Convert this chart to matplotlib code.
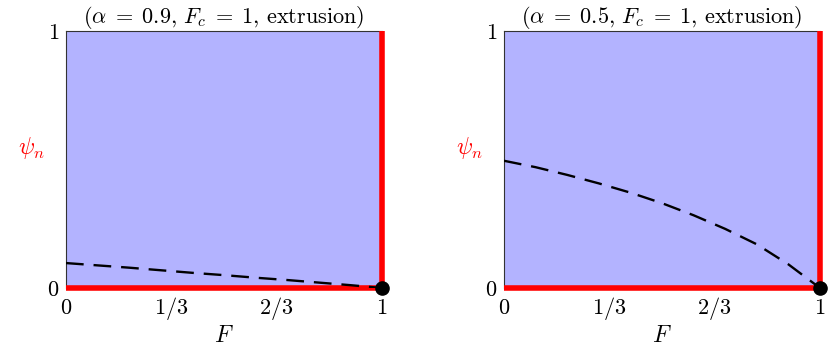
import numpy as np
import matplotlib
matplotlib.use("Agg")
import matplotlib.pyplot as plt

plt.rcParams['mathtext.fontset'] = 'cm'
plt.rcParams['font.family'] = 'serif'
plt.rcParams['font.serif'] = ['DejaVu Serif']

# values
F = [0, 0.1, 0.2, 0.3, 0.4, 0.5, 0.6, 0.7, 0.8, 0.9, 1.0]
psi_a09 = [0.097, 0.088, 0.079, 0.069, 0.059, 0.050, 0.040, 0.031, 0.021, 0.011, 0.0]
psi_a05 = [0.495, 0.470, 0.440, 0.407, 0.371, 0.330, 0.283, 0.230, 0.170, 0.092, 0.0]
titles = [r'$(\alpha \;=\; 0.9,\, F_c \;=\; 1,\, \mathrm{extrusion})$',
          r'$(\alpha \;=\; 0.5,\, F_c \;=\; 1,\, \mathrm{extrusion})$']
xticks = [0, 1/3, 2/3, 1]
xticklabels = [r'$0$', r'$1/3$', r'$2/3$', r'$1$']
yticks = [0, 1]
yticklabels = [r'$0$', r'$1$']

fig = plt.figure(figsize=(8.3, 3.57), dpi=100)
axes = [fig.add_axes([0.0795, 0.1933, 0.3807, 0.72]),
        fig.add_axes([0.6072, 0.1933, 0.3807, 0.72])]

for ax, psi, title in zip(axes, [psi_a09, psi_a05], titles):
    ax.set_facecolor('#b3b3ff')
    ax.set_xlim(0, 1)
    ax.set_ylim(0, 1)
    # red boundary pieces
    ax.plot([0, 1], [0, 0], color='#ff0000', lw=4, solid_capstyle='butt', clip_on=False, zorder=3)
    ax.plot([1, 1], [0, 1], color='#ff0000', lw=4, solid_capstyle='butt', clip_on=False, zorder=3)
    # dashed curve
    ax.plot(F, psi, color='black', lw=1.7, dashes=(7.5, 4.2), zorder=4)
    ax.plot([1], [0], 'o', color='black', ms=9.5, clip_on=False, zorder=5)

    ax.set_xticks(xticks)
    ax.set_xticklabels(xticklabels, va='baseline')
    ax.set_yticks(yticks)
    ax.set_yticklabels(yticklabels)
    ax.tick_params(length=0, labelsize=16)
    ax.tick_params(axis='x', pad=19)
    ax.tick_params(axis='y', pad=5)
    for s in ['left', 'top']:
        ax.spines[s].set_color('#333333')
        ax.spines[s].set_linewidth(0.8)
    for s in ['right', 'bottom']:
        ax.spines[s].set_visible(False)

    ax.set_title(title, fontsize=16, pad=5)
    ax.set_xlabel(r'$F$', fontsize=17, va='center')
    ax.xaxis.set_label_coords(0.5, -0.183)
    ax.set_ylabel(r'$\psi_n$', fontsize=17, color='#ff0000', rotation=0, va='center', ha='center')
    ax.yaxis.set_label_coords(-0.11, 0.545)

fig.savefig('out.png', dpi=100)
